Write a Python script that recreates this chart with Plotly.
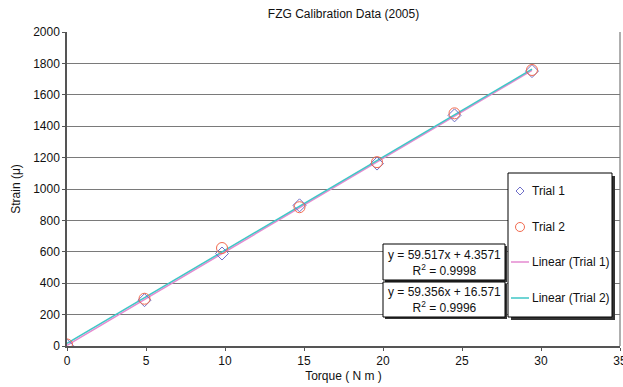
import numpy as np
import plotly.graph_objects as go

# ---- data ----
torque = [0, 4.905, 9.81, 14.715, 19.62, 24.525, 29.43]
trial1 = [2, 292, 589, 896, 1162, 1469, 1751]
trial2 = [10, 301, 624, 884, 1171, 1482, 1758]
eq1_text = "y = 59.517x + 4.3571<br>R<sup>2</sup> = 0.9998"
eq2_text = "y = 59.356x + 16.571<br>R<sup>2</sup> = 0.9996"
x_ticks = [0, 5, 10, 15, 20, 25, 30, 35]
y_ticks = list(range(0, 2001, 200))

W, H = 623, 387
L, R, T, B = 67, 3, 32, 41
FONT = "Arial, Liberation Sans, sans-serif"
C1 = "#6f6fc8"
C2 = "#f26a4f"
CL1 = "#e58ad0"
CL2 = "#3fc6c6"

def px(xp):
    return (xp - L) / (W - L - R)

def py(yp):
    return (H - B - yp) / (H - T - B)

x = np.array(torque)
fit1 = np.polyfit(x, trial1, 1)
fit2 = np.polyfit(x, trial2, 1)
xl = np.array([torque[0], torque[-1]])

fig = go.Figure()
fig.add_trace(go.Scatter(x=xl, y=np.polyval(fit1, xl), mode="lines",
                         line=dict(color=CL1, width=1.5), name="Linear (Trial 1)", showlegend=False))
fig.add_trace(go.Scatter(x=xl, y=np.polyval(fit2, xl), mode="lines",
                         line=dict(color=CL2, width=1.5), name="Linear (Trial 2)", showlegend=False))
fig.add_trace(go.Scatter(x=torque, y=trial1, mode="markers", name="Trial 1", showlegend=False,
                         marker=dict(symbol="diamond-open", size=10, color=C1, line=dict(width=1))))
fig.add_trace(go.Scatter(x=torque, y=trial2, mode="markers", name="Trial 2", showlegend=False,
                         marker=dict(symbol="circle-open", size=11, color=C2, line=dict(width=1))))

shapes = []
ann = []

# legend box with shadow
lx0, lx1, ly0, ly1 = 508, 612, 173, 317
shapes.append(dict(type="rect", xref="paper", yref="paper", x0=px(lx0 + 3), x1=px(lx1 + 3),
                   y0=py(ly0 + 3), y1=py(ly1 + 3), fillcolor="#333333", line=dict(width=0), layer="above"))
shapes.append(dict(type="rect", xref="paper", yref="paper", x0=px(lx0), x1=px(lx1),
                   y0=py(ly0), y1=py(ly1), fillcolor="white", line=dict(color="black", width=1), layer="above"))
names = ["Trial 1", "Trial 2", "Linear (Trial 1)", "Linear (Trial 2)"]
ys = [191, 227, 262, 298]
# diamond
cx, cy = 520, ys[0]
d = 4
shapes.append(dict(type="path", xref="paper", yref="paper",
                   path=f"M{px(cx)},{py(cy-d)} L{px(cx+d)},{py(cy)} L{px(cx)},{py(cy+d)} L{px(cx-d)},{py(cy)} Z",
                   line=dict(color=C1, width=1), layer="above"))
# circle
cx, cy = 520, ys[1]
r = 4.5
shapes.append(dict(type="circle", xref="paper", yref="paper", x0=px(cx - r), x1=px(cx + r),
                   y0=py(cy - r), y1=py(cy + r), line=dict(color=C2, width=1), layer="above"))
for yy, col in zip(ys[2:], [CL1, CL2]):
    shapes.append(dict(type="line", xref="paper", yref="paper", x0=px(511), x1=px(529),
                       y0=py(yy), y1=py(yy), line=dict(color=col, width=1.5), layer="above"))
for nm, yy in zip(names, ys):
    ann.append(dict(xref="paper", yref="paper", x=px(530), y=py(yy), text=nm, showarrow=False,
                    xanchor="left", yanchor="middle", font=dict(family=FONT, size=12, color="#111")))

# equation boxes
for (bx0, bx1, by0, by1), txt in zip([(383, 505, 244, 280), (383, 505, 282, 317)], [eq1_text, eq2_text]):
    shapes.append(dict(type="rect", xref="paper", yref="paper", x0=px(bx0 + 2), x1=px(bx1 + 2),
                       y0=py(by0 + 2), y1=py(by1 + 2), fillcolor="#333333", line=dict(width=0), layer="above"))
    shapes.append(dict(type="rect", xref="paper", yref="paper", x0=px(bx0), x1=px(bx1),
                       y0=py(by0), y1=py(by1), fillcolor="white", line=dict(color="black", width=1), layer="above"))
    ann.append(dict(xref="paper", yref="paper", x=px((bx0 + bx1) / 2), y=py((by0 + by1) / 2 + 0.5),
                    text=txt, showarrow=False, xanchor="center", yanchor="middle", align="center",
                    font=dict(family=FONT, size=12, color="#111")))

fig.update_layout(
    width=W, height=H, template="none",
    margin=dict(l=L, r=R, t=T, b=B, pad=0),
    paper_bgcolor="white", plot_bgcolor="white",
    font=dict(family=FONT, size=12, color="#111"),
    title=dict(text="FZG Calibration Data (2005)", x=(L + (W - R)) / 2 / W, xanchor="center",
               y=1 - 14 / H, yanchor="middle", font=dict(family=FONT, size=12, color="#111")),
    xaxis=dict(range=[0, 35], tickvals=x_ticks, ticks="outside", ticklen=3, tickcolor="#555",
               showgrid=False, zeroline=False, showline=True, linecolor="#555", linewidth=1.5,
               mirror=False, tickfont=dict(size=12), ticklabeloverflow="allow",
               title=dict(text="Torque ( N m )", standoff=4, font=dict(size=12))),
    yaxis=dict(range=[0, 2000], tickvals=y_ticks, ticks="outside", ticklen=3, tickcolor="#555",
               showgrid=True, gridcolor="#7a7a7a", gridwidth=1.2, zeroline=False,
               showline=True, linecolor="#555", linewidth=1.5, tickfont=dict(size=12),
               title=dict(text="Strain (\u03bc)", standoff=10, font=dict(size=12))),
    shapes=shapes + [dict(type="line", xref="paper", yref="paper", x0=1, x1=1, y0=0, y1=1,
                          line=dict(color="#7a7a7a", width=1.2), layer="below")],
    annotations=ann,
)
fig.write_html("out.html", config={"displayModeBar": False},
               post_script="document.body.style.margin='0';document.body.style.padding='0';")
